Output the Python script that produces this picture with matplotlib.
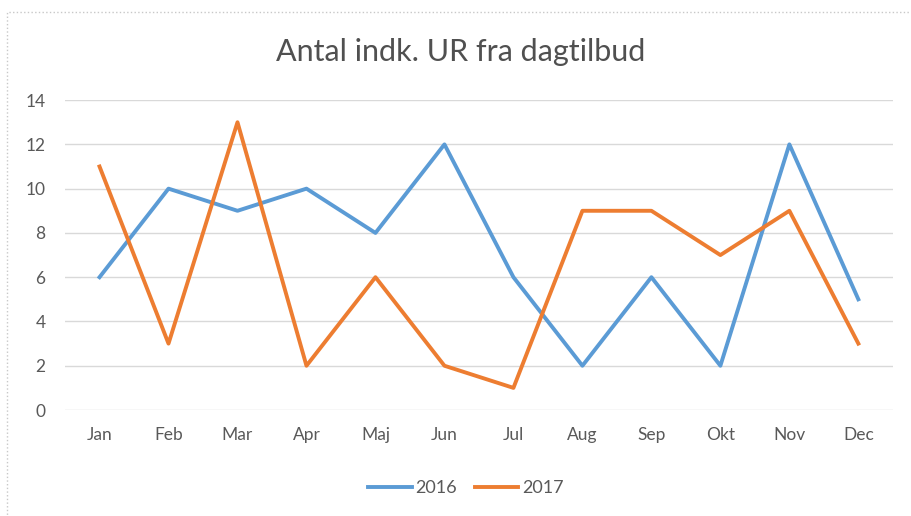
import matplotlib
matplotlib.use('Agg')
import matplotlib.pyplot as plt
from matplotlib.patches import Rectangle

months = ['Jan', 'Feb', 'Mar', 'Apr', 'Maj', 'Jun', 'Jul', 'Aug', 'Sep', 'Okt', 'Nov', 'Dec']
y2016 = [6, 10, 9, 10, 8, 12, 6, 2, 6, 2, 12, 5]
y2017 = [11, 3, 13, 2, 6, 2, 1, 9, 9, 7, 9, 3]

plt.rcParams['font.family'] = ['Lato', 'DejaVu Sans']

fig = plt.figure(figsize=(9.12, 5.16), dpi=100)
ax = fig.add_axes([0.0713, 0.2054, 0.979 - 0.0713, 0.806 - 0.2054])

x = list(range(len(months)))
ax.plot(x, y2016, color='#5B9BD5', lw=2.8, label='2016', solid_joinstyle='round')
ax.plot(x, y2017, color='#ED7D31', lw=2.8, label='2017', solid_joinstyle='round')

ax.set_xlim(-0.5, len(months) - 0.5)
ax.set_ylim(0, 14)
ax.set_yticks(range(0, 15, 2))
ax.set_xticks(x)
ax.set_xticklabels(months)
ax.tick_params(length=0, labelsize=12.5, labelcolor='#595959')
ax.tick_params(axis='y', pad=14)
ax.tick_params(axis='x', pad=12)
ax.grid(axis='y', color='#D9D9D9', lw=1)
ax.set_axisbelow(True)
for s in ax.spines.values():
    s.set_visible(False)

fig.text(0.505, 0.9, 'Antal indk. UR fra dagtilbud', ha='center', va='center',
         fontsize=22, color='#505050')
fig.legend(loc='center', bbox_to_anchor=(0.511, 0.054), ncol=2, frameon=False,
           fontsize=13, labelcolor='#595959', handlelength=2.4, handletextpad=0.2,
           columnspacing=1.0)

# light dotted chart border
fig.patches.append(Rectangle((7 / 912, -0.05), 1.0, 1 - 12 / 516 + 0.05,
                             transform=fig.transFigure, fill=False,
                             edgecolor='#C8C8C8', lw=1, ls=':'))

fig.savefig('out.png', dpi=100)
